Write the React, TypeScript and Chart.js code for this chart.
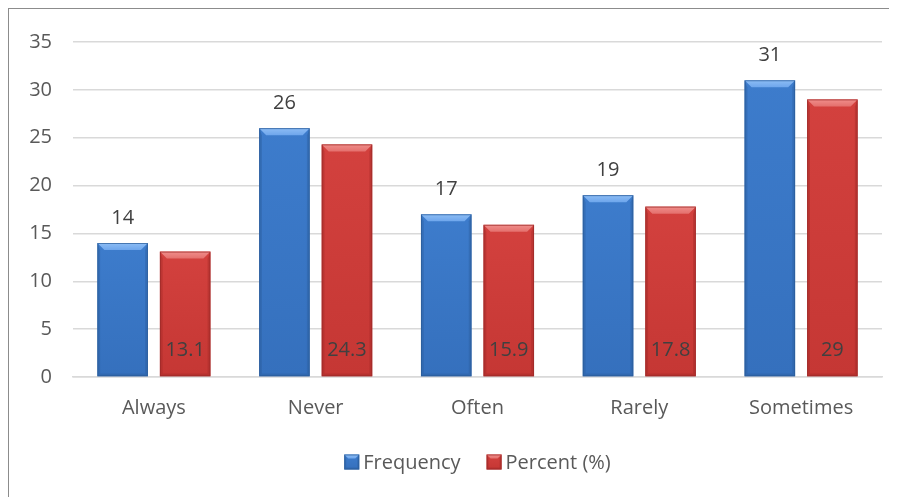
import React, { useEffect, useRef } from "react";
import { Chart, registerables } from "chart.js";

Chart.register(...registerables);

const categories = ["Always", "Never", "Often", "Rarely", "Sometimes"];
const frequency = [14, 26, 17, 19, 31];
const percent = [13.1, 24.3, 15.9, 17.8, 29];
const seriesNames = ["Frequency", "Percent (%)"];

const FONT = "'Open Sans', 'DejaVu Sans', sans-serif";
const TEXT = "#595959";
const LABEL = "#404040";

type Palette = { top: string; main: string; low: string; hi: string; side: string; edge: string };
const BLUE: Palette = { top: "#6ea6ec", main: "#3d7ccc", low: "#3570bd", hi: "#8dbdf5", side: "#2c5f9f", edge: "#2a5a96" };
const RED: Palette = { top: "#e4706d", main: "#d3413e", low: "#c53734", hi: "#f08e8b", side: "#a42b29", edge: "#9a2a28" };
const palettes = [BLUE, RED];

function bevelRect(ctx: CanvasRenderingContext2D, l: number, t: number, r: number, b: number, p: Palette, bev: number) {
  const w = r - l;
  const h = b - t;
  const g = ctx.createLinearGradient(0, t, 0, b);
  g.addColorStop(0, p.main);
  g.addColorStop(1, p.low);
  ctx.fillStyle = g;
  ctx.fillRect(l, t, w, h);
  const bv = Math.min(bev, w / 2, h / 2);
  const sw = Math.max(2, bv * 0.4);
  // side strips
  ctx.globalAlpha = 0.45;
  ctx.fillStyle = p.side;
  ctx.beginPath();
  ctx.moveTo(l, t); ctx.lineTo(l + sw, t + bv); ctx.lineTo(l + sw, b - sw); ctx.lineTo(l, b); ctx.closePath(); ctx.fill();
  ctx.beginPath();
  ctx.moveTo(r, t); ctx.lineTo(r - sw, t + bv); ctx.lineTo(r - sw, b - sw); ctx.lineTo(r, b); ctx.closePath(); ctx.fill();
  ctx.beginPath();
  ctx.moveTo(l, b); ctx.lineTo(r, b); ctx.lineTo(r - sw, b - sw); ctx.lineTo(l + sw, b - sw); ctx.closePath(); ctx.fill();
  ctx.globalAlpha = 1;
  // top facet
  const tg = ctx.createLinearGradient(0, t, 0, t + bv);
  tg.addColorStop(0, p.hi);
  tg.addColorStop(1, p.top);
  ctx.fillStyle = tg;
  ctx.beginPath();
  ctx.moveTo(l, t); ctx.lineTo(r, t); ctx.lineTo(r - bv, t + bv); ctx.lineTo(l + bv, t + bv); ctx.closePath(); ctx.fill();
  ctx.strokeStyle = p.edge;
  ctx.globalAlpha = 0.7;
  ctx.lineWidth = 1;
  ctx.strokeRect(l + 0.5, t + 0.5, w - 1, h - 1);
  ctx.globalAlpha = 1;
}

const bevelBars = {
  id: "bevelBars",
  afterDatasetsDraw(chart: any) {
    const ctx: CanvasRenderingContext2D = chart.ctx;
    ctx.save();
    chart.data.datasets.forEach((ds: any, di: number) => {
      const meta = chart.getDatasetMeta(di);
      meta.data.forEach((bar: any, i: number) => {
        const { x, y, base, width } = bar.getProps(["x", "y", "base", "width"], true);
        bevelRect(ctx, x - width / 2, y, x + width / 2, base, palettes[di], 7);
        ctx.font = `20px ${FONT}`;
        ctx.fillStyle = LABEL;
        ctx.textAlign = "center";
        ctx.textBaseline = "middle";
        const v = ds.data[i];
        if (di === 0) ctx.fillText(String(v), x, y - 25);
        else ctx.fillText(String(v), x, base - 26);
      });
    });
    ctx.restore();
  },
  afterDraw(chart: any) {
    const ctx: CanvasRenderingContext2D = chart.ctx;
    ctx.save();
    ctx.font = `20px ${FONT}`;
    const box = 15;
    const gap = 4;
    const sep = 26;
    const widths = seriesNames.map((n) => box + gap + ctx.measureText(n).width);
    const total = widths.reduce((a, b) => a + b, 0) + sep * (seriesNames.length - 1);
    let x = (chart.chartArea.left + chart.chartArea.right) / 2 - total / 2;
    const cy = 453;
    seriesNames.forEach((n, i) => {
      bevelRect(ctx, x, cy - box / 2, x + box, cy + box / 2, palettes[i], 4);
      ctx.fillStyle = TEXT;
      ctx.textAlign = "left";
      ctx.textBaseline = "middle";
      ctx.fillText(n, x + box + gap, cy + 1);
      x += widths[i] + sep;
    });
    ctx.restore();
  },
};

export default function App() {
  const ref = useRef<HTMLCanvasElement>(null);
  useEffect(() => {
    document.documentElement.style.overflow = "hidden";
    document.body.style.overflow = "hidden";
    if (!ref.current) return;
    const chart = new Chart(ref.current, {
      type: "bar",
      data: {
        labels: categories,
        datasets: [
          { label: seriesNames[0], data: frequency, backgroundColor: "rgba(0,0,0,0)" },
          { label: seriesNames[1], data: percent, backgroundColor: "rgba(0,0,0,0)" },
        ],
      },
      options: {
        animation: false,
        responsive: false,
        maintainAspectRatio: false,
        layout: { padding: { top: 28, right: 7, bottom: 0, left: 0 } },
        datasets: { bar: { categoryPercentage: 0.773, barPercentage: 0.808 } },
        plugins: { legend: { display: false }, tooltip: { enabled: false } },
        scales: {
          x: {
            grid: { display: false, drawTicks: false },
            border: { display: true, color: "#d9d9d9", width: 1.5 },
            ticks: { color: TEXT, font: { family: FONT, size: 20 }, padding: 19 },
            afterFit(scale: any) { scale.height = 112; },
          },
          y: {
            min: 0,
            max: 35,
            grid: { color: "#d9d9d9", lineWidth: 1.5, drawTicks: false },
            border: { display: false },
            ticks: { stepSize: 5, color: TEXT, font: { family: FONT, size: 20 }, padding: 21 },
            afterFit(scale: any) { scale.width = 64; },
          },
        },
      },
      plugins: [bevelBars],
    });
    return () => chart.destroy();
  }, []);
  return (
    <div
      style={{
        width: 1000,
        height: 600,
        boxSizing: "border-box",
        borderLeft: "1px solid #8c8c8c",
        borderTop: "1px solid #8c8c8c",
        background: "#fff",
      }}
    >
      <canvas ref={ref} width={880} height={480} style={{ display: "block" }} />
    </div>
  );
}
